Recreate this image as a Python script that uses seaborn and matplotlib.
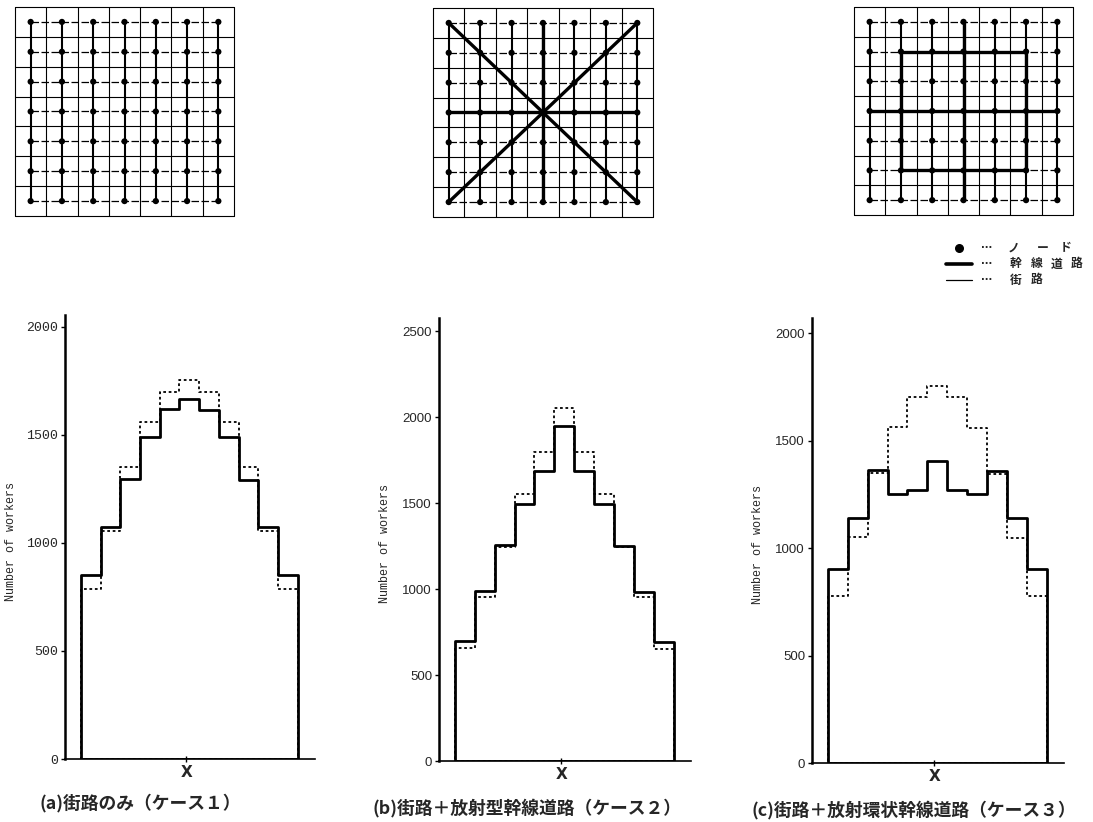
import numpy as np
import matplotlib
matplotlib.use("Agg")
import matplotlib.pyplot as plt
import seaborn as sns

# ---------------- data ----------------
zones = list(range(11))            # 11 zones along the x direction
zone_edges = list(range(12))

case1_solid = [852, 1074, 1296, 1491, 1620, 1667, 1615, 1491, 1292, 1072, 850]
case1_dotted = [787, 1055, 1352, 1560, 1699, 1755, 1699, 1560, 1352, 1055, 787]
case2_solid = [698, 988, 1256, 1494, 1686, 1948, 1686, 1494, 1250, 982, 692]
case2_dotted = [657, 954, 1244, 1552, 1797, 2052, 1797, 1552, 1244, 954, 651]
case3_solid = [901, 1141, 1362, 1253, 1268, 1404, 1268, 1253, 1357, 1141, 901]
case3_dotted = [775, 1052, 1347, 1563, 1704, 1756, 1704, 1560, 1345, 1047, 775]

yticks_a = [0, 500, 1000, 1500, 2000]
yticks_b = [0, 500, 1000, 1500, 2000, 2500]
yticks_c = [0, 500, 1000, 1500, 2000]

captions = ["(a)街路のみ（ケース１）",
            "(b)街路＋放射型幹線道路（ケース２）",
            "(c)街路＋放射環状幹線道路（ケース３）"]
ylabel_text = "Number of workers"
xtick_label = "X"

legend_labels = ["ノード", "幹線道路", "街路"]

# trunk roads as node index pairs (col, row) on a 7x7 node grid
case1_trunks = []
case2_trunks = [((0, 0), (6, 6)), ((0, 6), (6, 0)), ((0, 3), (6, 3)), ((3, 0), (3, 6))]
case3_trunks = [((0, 3), (6, 3)), ((3, 0), (3, 6)),
                ((1, 1), (5, 1)), ((5, 1), (5, 5)), ((5, 5), (1, 5)), ((1, 5), (1, 1))]

# ---------------- style ----------------
sns.set_style("white")
plt.rcParams["font.family"] = ["Noto Sans CJK JP", "DejaVu Sans"]

W, H = 1093, 822
fig = plt.figure(figsize=(W / 100, H / 100), dpi=100)


def px_axes(l, t, r, b):
    return fig.add_axes([l / W, 1 - b / H, (r - l) / W, (b - t) / H])


def draw_network(ax, trunks):
    n = 7
    for k in range(n + 1):
        ax.plot([k, k], [0, n], color="black", lw=0.8, clip_on=False)
        ax.plot([0, n], [k, k], color="black", lw=0.8, clip_on=False)
    centers = np.arange(n) + 0.5
    for c in centers:
        ax.plot([c, c], [centers[0], centers[-1]], color="black", lw=1.5)
        ax.plot([centers[0], centers[-1]], [c, c], color="black", lw=0.9,
                ls=(0, (6, 2)))
    for (c0, r0), (c1, r1) in trunks:
        ax.plot([centers[c0], centers[c1]], [centers[r0], centers[r1]],
                color="black", lw=2.4, solid_capstyle="butt")
    gx, gy = np.meshgrid(centers, centers)
    sns.scatterplot(x=gx.ravel(), y=gy.ravel(), ax=ax, s=20, color="black",
                    edgecolor="none", legend=False, zorder=5)
    ax.set_xlim(0, n)
    ax.set_ylim(0, n)
    ax.axis("off")


net_boxes = [(15, 7, 234, 216), (433, 8, 653, 217), (854, 7, 1073, 215)]
for box, tr in zip(net_boxes, [case1_trunks, case2_trunks, case3_trunks]):
    draw_network(px_axes(*box), tr)

# legend
lax = px_axes(930, 232, 1093, 292)
lax.set_xlim(930, 1093)
lax.set_ylim(292, 232)
lax.axis("off")
rows_y = [248, 264, 280]
lax.scatter([959], [rows_y[0]], s=30, color="black")
lax.plot([946, 972], [rows_y[1], rows_y[1]], color="black", lw=2.6)
lax.plot([946, 972], [rows_y[2], rows_y[2]], color="black", lw=0.9)
char_x = {0: [1014, 1043, 1066], 1: [1016, 1037, 1057, 1077], 2: [1016, 1037]}
for i, lab in enumerate(legend_labels):
    lax.text(987, rows_y[i], "···", ha="center", va="center", fontsize=7,
             family="DejaVu Sans", fontweight="bold")
    for ch, cx in zip(lab, char_x[i]):
        lax.text(cx, rows_y[i], ch, ha="center", va="center", fontsize=8.5,
                 fontweight="bold")

# ---------------- histograms ----------------
panels = [
    dict(box=(65, 315, 315, 759), solid=case1_solid, dotted=case1_dotted,
         ytop=2055, yt=yticks_a, font="Liberation Mono", cap=(140, 803)),
    dict(box=(439, 318, 691, 761), solid=case2_solid, dotted=case2_dotted,
         ytop=2576, yt=yticks_b, font="Liberation Sans", cap=(527, 808)),
    dict(box=(812, 318, 1064, 763), solid=case3_solid, dotted=case3_dotted,
         ytop=2070, yt=yticks_c, font="Liberation Sans", cap=(914, 810)),
]

for p, cap in zip(panels, captions):
    ax = px_axes(*p["box"])
    sns.histplot(x=zones, weights=p["dotted"], bins=zone_edges, element="step",
                 fill=True, color="black", facecolor="none", edgecolor="black",
                 linewidth=1.3, linestyle=(0, (1.5, 1.5)), ax=ax, zorder=2)
    sns.histplot(x=zones, weights=p["solid"], bins=zone_edges, element="step",
                 fill=True, color="black", facecolor="none", edgecolor="black",
                 linewidth=2.0, ax=ax, zorder=3)
    ax.set_xlim(-0.8, 11.87)
    ax.set_ylim(0, p["ytop"])
    sns.despine(ax=ax)
    ax.spines["left"].set_linewidth(1.8)
    ax.spines["bottom"].set_linewidth(1.2)
    ax.spines["left"].set_color("black")
    ax.spines["bottom"].set_color("black")
    ax.set_yticks(p["yt"])
    ax.set_yticklabels([str(v) for v in p["yt"]], family=p["font"], fontsize=9.5)
    ax.tick_params(axis="y", direction="out", length=3, width=1, pad=2,
                   left=True, color="black")
    ax.set_xticks([5.35])
    ax.set_xticklabels([xtick_label], family="DejaVu Sans", fontsize=11,
                       fontweight="bold")
    ax.tick_params(axis="x", direction="inout", length=5, width=1, pad=2,
                   bottom=True, color="black")
    ax.set_xlabel("")
    ax.set_ylabel(ylabel_text, family="Liberation Mono", fontsize=8.5)
    ax.yaxis.set_label_coords(-0.19, 0.49)
    fig.text(p["cap"][0] / W, 1 - p["cap"][1] / H, cap,
             ha="center", va="center", fontsize=12.8, fontweight="bold")

fig.savefig("out.png", dpi=100)
